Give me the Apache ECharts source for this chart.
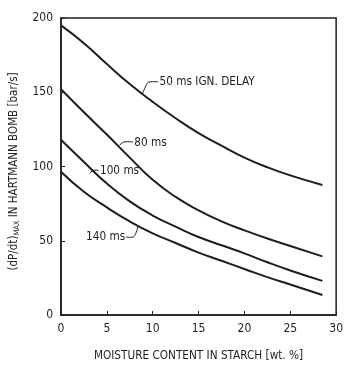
<!DOCTYPE html>
<html><head><meta charset="utf-8">
<script src="https://cdn.jsdelivr.net/npm/echarts@6/dist/echarts.min.js"></script>
<style>html,body{margin:0;padding:0;background:#fff}#c{width:346px;height:367px}</style>
</head><body><div id="c"></div>
<script>
const moisture = [0, 2.5, 5, 7.5, 10, 12.5, 15, 17.5, 20, 22.5, 25, 28.5];
const delay50  = [195, 183, 169, 155.5, 143.5, 132.5, 122.5, 114, 106, 99.5, 94, 87.5];
const delay80  = [152, 136.5, 121.5, 106, 91, 79.5, 70.5, 63, 57, 51.5, 46.5, 39.5];
const delay100 = [118, 103, 88.5, 76.5, 67, 59.5, 52.5, 47, 41.5, 35.5, 30, 23];
const delay140 = [96.5, 83, 72.5, 63, 55, 48.5, 42, 36.5, 31, 25.5, 20.5, 13.5];
const seriesNames = ['50 ms IGN. DELAY', '80 ms', '100 ms', '140 ms'];
const seriesValues = [delay50, delay80, delay100, delay140];
const xTicks = [0, 5, 10, 15, 20, 25, 30];
const yTicks = [0, 50, 100, 150, 200];
// annotation leaders (data coords) and text anchors
const labelLeaders = [
  [[8.85, 148.5], [9.4, 156], [9.7, 157], [10.6, 157]],
  [[6.38, 114.3], [6.85, 116.5], [7.85, 116.5]],
  [[3.15, 95.4], [3.5, 97.4], [4.1, 97.4]],
  [[7.1, 52.5], [7.95, 52.8], [8.4, 59.5]]
];
const labelAnchors = [[10.75, 157], [8.0, 116], [4.25, 96.8], [7.0, 52.6]];
const labelAligns = ['left', 'left', 'left', 'right'];

const FONT = "'Liberation Sans Narrow','DejaVu Sans Condensed','Liberation Sans',sans-serif";
const INK = '#1e1e1e';
const chart = echarts.init(document.getElementById('c'), null, {renderer: 'canvas'});

const series = seriesValues.map((vals, i) => ({
  name: seriesNames[i],
  type: 'line',
  smooth: 0.5,
  symbol: 'none',
  lineStyle: {color: INK, width: 2},
  data: moisture.map((m, j) => [m, vals[j]])
}));

chart.setOption({
  animation: false,
  backgroundColor: '#fff',
  grid: {left: 59, right: 8, top: 18, bottom: 45, show: true, borderColor: INK, borderWidth: 1.5, backgroundColor: 'transparent'},
  xAxis: {
    type: 'value', min: 0, max: 30, interval: 5,
    name: 'MOISTURE CONTENT IN STARCH [wt. %]',
    nameLocation: 'middle', nameGap: 35,
    nameTextStyle: {fontFamily: FONT, fontSize: 11.7, color: INK},
    axisLine: {lineStyle: {color: INK, width: 1.5}},
    axisTick: {inside: true, length: 4, lineStyle: {color: INK, width: 1}},
    axisLabel: {fontFamily: FONT, fontSize: 12, color: INK, margin: 8},
    splitLine: {show: false}
  },
  yAxis: {
    type: 'value', min: 0, max: 200, interval: 50,
    name: '{n|(dP/dt)}{sub|MAX}{n| IN HARTMANN BOMB [bar/s]}',
    nameLocation: 'middle', nameGap: 40,
    nameTextStyle: {
      fontFamily: FONT, fontSize: 11.5, color: INK, padding: [0, 10, 0, 0],
      rich: {
        n: {fontFamily: FONT, fontSize: 11.5, color: INK, lineHeight: 14, verticalAlign: 'middle'},
        sub: {fontFamily: FONT, fontSize: 7.5, color: INK, lineHeight: 7, verticalAlign: 'bottom'}
      }
    },
    axisLine: {lineStyle: {color: INK, width: 1.5}},
    axisTick: {inside: true, length: 4, lineStyle: {color: INK, width: 1}},
    axisLabel: {fontFamily: FONT, fontSize: 12, color: INK, margin: 8},
    splitLine: {show: false}
  },
  series: series
});

const toPx = p => chart.convertToPixel({gridIndex: 0}, p);
const graphics = [];
labelLeaders.forEach((pts, i) => {
  graphics.push({
    type: 'polyline', silent: true,
    shape: {points: pts.map(toPx), smooth: 0.3},
    style: {stroke: INK, lineWidth: 1, fill: null}
  });
  const a = toPx(labelAnchors[i]);
  graphics.push({
    type: 'text', silent: true, x: a[0], y: a[1],
    style: {text: seriesNames[i], fontFamily: FONT, fontSize: 11.7, fill: INK,
      align: labelAligns[i], verticalAlign: 'middle',
      textAlign: labelAligns[i], textVerticalAlign: 'middle'}
  });
});
chart.setOption({graphic: graphics});
</script>
</body></html>
